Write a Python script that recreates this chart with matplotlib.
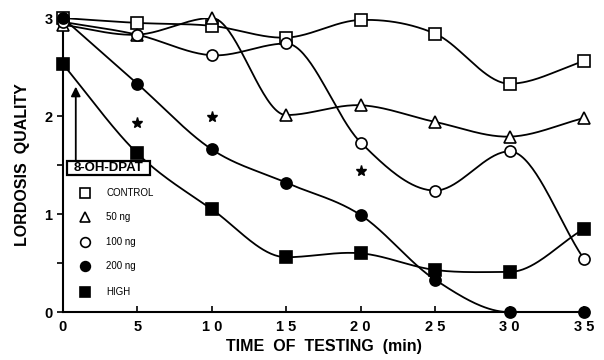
import numpy as np
import matplotlib
matplotlib.use("Agg")
import matplotlib.pyplot as plt
from matplotlib.patches import Rectangle

plt.rcParams['font.family'] = ['Liberation Sans', 'DejaVu Sans']
plt.rcParams['font.weight'] = 'bold'

times = [0, 5, 10, 15, 20, 25, 30, 35]
control = [3.00, 2.95, 2.92, 2.80, 2.98, 2.84, 2.33, 2.56]
ng50 = [2.93, 2.83, 3.00, 2.01, 2.11, 1.94, 1.79, 1.98]
ng100 = [2.96, 2.83, 2.62, 2.74, 1.73, 1.24, 1.64, 0.54]
ng200 = [3.00, 2.33, 1.66, 1.32, 0.99, 0.33, 0.00, 0.00]
high = [2.53, 1.62, 1.05, 0.56, 0.60, 0.43, 0.41, 0.85]
star_x = [5, 10, 20]
star_y = [1.93, 1.99, 1.44]
legend_labels = ['CONTROL', '50 ng', '100 ng', '200 ng', 'HIGH']
xticks = [0, 5, 10, 15, 20, 25, 30, 35]
xticklabels = ['0', '5', '1 0', '1 5', '2 0', '2 5', '3 0', '3 5']
drug_label = '8-OH-DPAT'


def smooth(x, y, n=40):
    x = np.asarray(x, float)
    y = np.asarray(y, float)
    m = np.zeros_like(y)
    m[1:-1] = (y[2:] - y[:-2]) / (x[2:] - x[:-2])
    m[0] = (y[1] - y[0]) / (x[1] - x[0])
    m[-1] = (y[-1] - y[-2]) / (x[-1] - x[-2])
    for i in range(1, len(y) - 1):
        d1 = y[i] - y[i - 1]
        d2 = y[i + 1] - y[i]
        if d1 * d2 <= 0 and max(abs(d1), abs(d2)) > 0.3:
            m[i] = 0.0
    xs, ys = [], []
    for i in range(len(x) - 1):
        h = x[i + 1] - x[i]
        t = np.linspace(0, 1, n)
        h00 = 2 * t**3 - 3 * t**2 + 1
        h10 = t**3 - 2 * t**2 + t
        h01 = -2 * t**3 + 3 * t**2
        h11 = t**3 - t**2
        xs.append(x[i] + t * h)
        ys.append(h00 * y[i] + h10 * h * m[i] + h01 * y[i + 1] + h11 * h * m[i + 1])
    return np.concatenate(xs), np.concatenate(ys)


fig = plt.figure(figsize=(6.04, 3.6), dpi=100)
ax = fig.add_axes([0.104, 0.133, 0.863, 0.817])

series = [
    (control, 's', 'white'),
    (ng50, '^', 'white'),
    (ng100, 'o', 'white'),
    (ng200, 'o', 'black'),
    (high, 's', 'black'),
]
for vals, mk, fc in series:
    sx, sy = smooth(times, vals)
    ax.plot(sx, sy, color='black', lw=1.3, zorder=2)
    ax.plot(times, vals, linestyle='none', marker=mk, markersize=8,
            markerfacecolor=fc, markeredgecolor='black', markeredgewidth=1.2,
            clip_on=False, zorder=3)

ax.plot(star_x, star_y, linestyle='none', marker='*', markersize=8,
        color='black', zorder=3)

ax.set_xlim(0, 35)
ax.set_ylim(0, 3)
ax.spines['top'].set_visible(False)
ax.spines['right'].set_visible(False)
ax.spines['left'].set_linewidth(1.5)
ax.spines['bottom'].set_linewidth(1.5)

ax.set_xticks(xticks)
ax.set_xticklabels(xticklabels, fontsize=10.5, fontweight='bold')
ax.tick_params(axis='x', direction='in', length=4, width=1.2, pad=6)
ax.set_yticks([0, 1, 2, 3])
ax.set_yticklabels(['0', '1', '2', '3'], fontsize=10.5, fontweight='bold')
ax.set_yticks([0.5, 1.5, 2.5], minor=True)
ax.tick_params(axis='y', which='both', direction='out', length=4, width=1.2)

ax.set_xlabel('TIME  OF  TESTING  (min)', fontsize=11.5, fontweight='bold', labelpad=3)
ax.set_ylabel('LORDOSIS  QUALITY', fontsize=11.5, fontweight='bold', labelpad=10)

# arrow and label box
ax.annotate('', xy=(0.87, 2.30), xytext=(0.87, 1.55),
            arrowprops=dict(arrowstyle='-|>', color='black', lw=1.3,
                            mutation_scale=14, shrinkA=0, shrinkB=0))
ax.add_patch(Rectangle((0.27, 1.395), 5.58, 0.15, fc='white', ec='black',
                       lw=1.6, zorder=4))
ax.text(3.06, 1.468, drug_label, fontsize=9.5, fontweight='bold',
        ha='center', va='center', zorder=5)

# legend
leg_y = [1.21, 0.97, 0.72, 0.47, 0.21]
leg_mk = [('s', 'white'), ('^', 'white'), ('o', 'white'), ('o', 'black'), ('s', 'black')]
for ly, (mk, fc), lab in zip(leg_y, leg_mk, legend_labels):
    ax.plot([1.5], [ly], linestyle='none', marker=mk, markersize=7,
            markerfacecolor=fc, markeredgecolor='black', markeredgewidth=1.2)
    ax.text(2.9, ly, lab, fontsize=7, fontweight='normal', ha='left', va='center')

fig.savefig('out.png', dpi=100)
